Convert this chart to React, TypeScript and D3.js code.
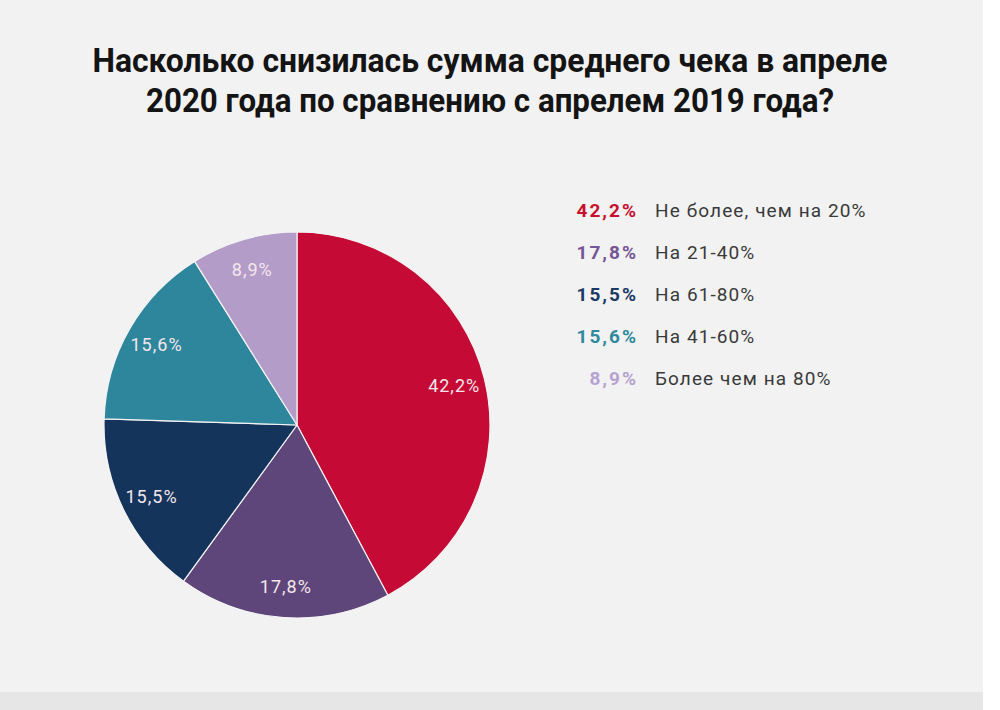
import { useEffect, useRef } from "react"
import * as d3 from "d3"

const TITLE_LINES = [
  "Насколько снизилась сумма среднего чека в апреле",
  "2020 года по сравнению с апрелем 2019 года?",
]
const TITLE_WIDTHS = [795, 688]

// slices in drawing order, clockwise from 12 o'clock
const SLICE_LABELS = [
  "Не более, чем на 20%",
  "На 21-40%",
  "На 61-80%",
  "На 41-60%",
  "Более чем на 80%",
]
const SLICE_VALUES = [42.2, 17.8, 15.5, 15.6, 8.9]
const SLICE_COLORS = ["#c50b35", "#5e467a", "#15345c", "#2e869c", "#b39dc8"]
const LEGEND_COLORS = ["#c8102e", "#765796", "#1b3a66", "#2f8a9e", "#b7a2d0"]

const W = 1000
const H = 710
const BG = "#f2f2f2"
const INK = "#141414"
const TEXT = "#3a3a3a"
const FONT = "Roboto, 'DejaVu Sans', sans-serif"

const fmt = (v: number) => v.toFixed(1).replace(".", ",") + "%"

export default function App() {
  const ref = useRef<SVGSVGElement>(null)

  useEffect(() => {
    if (!ref.current) return
    const svg = d3.select(ref.current)
    svg.selectAll("*").remove()

    // card background + bottom strip
    svg.append("rect").attr("width", W).attr("height", H).attr("fill", "#ffffff")
    svg.append("rect").attr("width", 983).attr("height", 692).attr("fill", BG)
    svg.append("rect").attr("y", 692).attr("width", 983).attr("height", H - 692).attr("fill", "#e6e6e6")

    // title, squeezed to a condensed look
    svg
      .append("g")
      .selectAll("text")
      .data(TITLE_LINES)
      .join("text")
      .attr("x", 490)
      .attr("y", (_, i) => 72 + i * 40)
      .attr("text-anchor", "middle")
      .attr("font-family", FONT)
      .attr("font-weight", 700)
      .attr("font-size", 34)
      .attr("textLength", (_, i) => TITLE_WIDTHS[i])
      .attr("lengthAdjust", "spacingAndGlyphs")
      .attr("fill", INK)
      .text((d) => d)

    // pie
    const cx = 297
    const cy = 425
    const R = 193
    const data = SLICE_VALUES.map((v, i) => ({ v, i }))
    const pie = d3
      .pie<{ v: number; i: number }>()
      .value((d) => d.v)
      .sort(null)
    const arcs = pie(data)
    const arc = d3.arc<d3.PieArcDatum<{ v: number; i: number }>>().innerRadius(0).outerRadius(R)
    const labelArc = d3
      .arc<d3.PieArcDatum<{ v: number; i: number }>>()
      .innerRadius(162)
      .outerRadius(162)

    const g = svg.append("g").attr("transform", `translate(${cx},${cy})`)
    g.selectAll("path")
      .data(arcs)
      .join("path")
      .attr("d", arc)
      .attr("fill", (d) => SLICE_COLORS[d.data.i])
      .attr("stroke", "#f4f4f4")
      .attr("stroke-width", 1.2)
      .attr("stroke-linejoin", "round")

    g.selectAll("text")
      .data(arcs)
      .join("text")
      .attr("transform", (d) => `translate(${labelArc.centroid(d)})`)
      .attr("text-anchor", "middle")
      .attr("dominant-baseline", "central")
      .attr("font-family", FONT)
      .attr("font-size", 18)
      .attr("letter-spacing", 1)
      .attr("fill", "#f3e6ec")
      .text((d) => fmt(d.data.v))

    // legend
    const legend = svg.append("g")
    const rowY = (i: number) => 210 + i * 42.2
    legend
      .selectAll("text.pct")
      .data(SLICE_VALUES)
      .join("text")
      .attr("class", "pct")
      .attr("x", 638)
      .attr("y", (_, i) => rowY(i))
      .attr("text-anchor", "end")
      .attr("dominant-baseline", "central")
      .attr("font-family", FONT)
      .attr("font-weight", 700)
      .attr("font-size", 19)
      .attr("letter-spacing", 2)
      .attr("fill", (_, i) => LEGEND_COLORS[i])
      .text((d) => fmt(d))
    legend
      .selectAll("text.lbl")
      .data(SLICE_LABELS)
      .join("text")
      .attr("class", "lbl")
      .attr("x", 655)
      .attr("y", (_, i) => rowY(i))
      .attr("dominant-baseline", "central")
      .attr("font-family", FONT)
      .attr("font-size", 19)
      .attr("letter-spacing", 1.1)
      .attr("fill", TEXT)
      .text((d) => d)
  }, [])

  return (
    <svg
      ref={ref}
      width={W}
      height={H}
      style={{ position: "absolute", left: 0, top: 0, display: "block" }}
    />
  )
}
